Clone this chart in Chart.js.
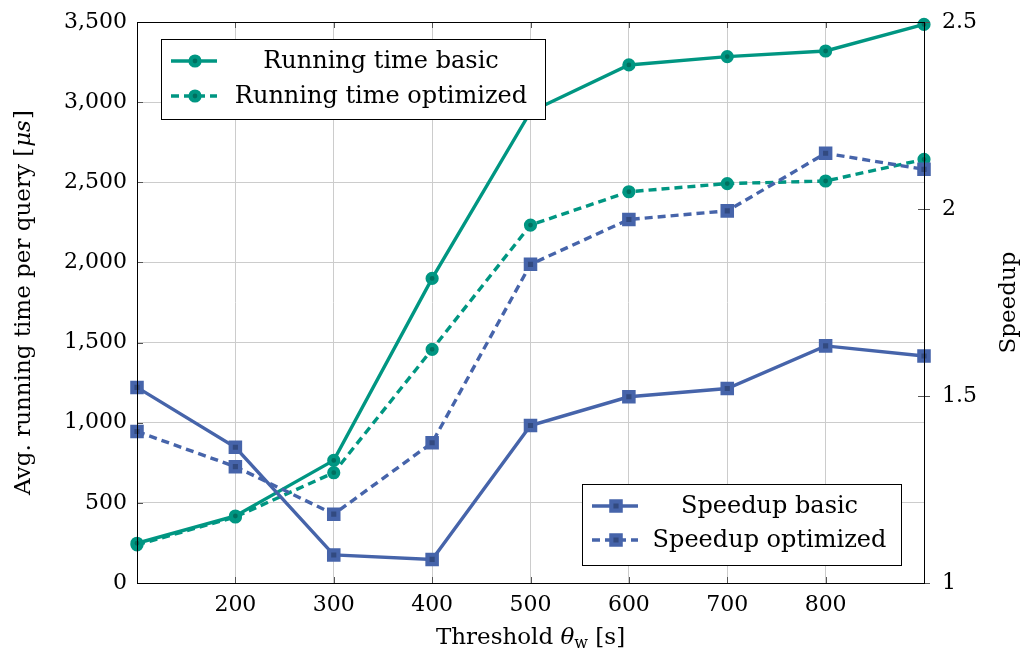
<!DOCTYPE html>
<html>
<head>
<meta charset="utf-8">
<title>Running time and speedup</title>
<script src="https://cdn.jsdelivr.net/npm/chart.js@4.4.1/dist/chart.umd.min.js"></script>
<style>
  html, body { margin: 0; padding: 0; background: #fff; }
  #wrap { width: 1027px; height: 662px; }
</style>
</head>
<body>
<div id="wrap"><canvas id="chart"></canvas></div>
<script>
// threshold theta_w in seconds
const thresholds = [100, 200, 300, 400, 500, 600, 700, 800, 900];

// avg. running time per query in microseconds (left axis)
const timeBasic = [248, 418, 765, 1900, 2940, 3232, 3284, 3319, 3485];
const timeOptimized = [238, 412, 688, 1458, 2233, 2441, 2492, 2508, 2643];

// speedup (right axis)
const speedupBasic = [1.523, 1.363, 1.075, 1.063, 1.421, 1.498, 1.520, 1.634, 1.607];
const speedupOptimized = [1.405, 1.311, 1.184, 1.375, 1.852, 1.972, 1.995, 2.149, 2.106];

const xTicks = [200, 300, 400, 500, 600, 700, 800];
const timeTicks = [0, 500, 1000, 1500, 2000, 2500, 3000, 3500];
const speedupTicks = [1, 1.5, 2, 2.5];

const GREEN = '#009682';
const GREEN_DARK = '#006f5f';
const BLUE = '#4664aa';
const BLUE_DARK = '#324a80';
const DASH = [8, 5];
const FONT = '"DejaVu Serif", "Liberation Serif", serif';

function pts(xs, ys) {
  return xs.map((x, i) => ({ x: x, y: ys[i] }));
}

function series(label, data, axis, color, dark, dashed, shape) {
  const round = shape === 'circle';
  return {
    label: label,
    data: data,
    yAxisID: axis,
    borderColor: color,
    borderWidth: 3.4,
    borderDash: dashed ? DASH : [],
    pointStyle: shape,
    pointRadius: round ? 4.5 : 6.6,
    pointHoverRadius: round ? 4.5 : 6.6,
    pointBorderWidth: 4.2,
    pointBackgroundColor: dark,
    pointBorderColor: color,
    tension: 0,
    fill: false,
    clip: false,
    order: axis === 'yTime' ? 2 : 1
  };
}

function drawMarker(ctx, ds, x, y) {
  ctx.fillStyle = ds.pointBackgroundColor;
  ctx.strokeStyle = ds.pointBorderColor;
  ctx.lineWidth = ds.pointBorderWidth;
  ctx.beginPath();
  if (ds.pointStyle === 'circle') {
    ctx.arc(x, y, ds.pointRadius, 0, Math.PI * 2);
  } else {
    const s = Math.SQRT1_2 * ds.pointRadius;
    ctx.rect(x - s, y - s, 2 * s, 2 * s);
  }
  ctx.fill();
  ctx.stroke();
}

// framed legend box, drawn over the lines
function drawLegend(ctx, box, rows) {
  ctx.save();
  ctx.fillStyle = '#fff';
  ctx.fillRect(box.x, box.y, box.w, box.h);
  ctx.strokeStyle = '#000';
  ctx.lineWidth = 1;
  ctx.strokeRect(box.x + 0.5, box.y + 0.5, box.w, box.h);
  ctx.font = '24px ' + FONT;
  ctx.textBaseline = 'middle';
  rows.forEach(r => {
    const ds = r.ds;
    ctx.strokeStyle = ds.borderColor;
    ctx.lineWidth = ds.borderWidth;
    ctx.setLineDash(ds.borderDash);
    ctx.beginPath();
    ctx.moveTo(box.x + 10, r.y);
    ctx.lineTo(box.x + 56, r.y);
    ctx.stroke();
    ctx.setLineDash([]);
    drawMarker(ctx, ds, box.x + 34, r.y);
    ctx.fillStyle = '#000';
    const left = box.x + 64, right = box.x + box.w - 8;
    const w = ctx.measureText(ds.label).width;
    ctx.textAlign = 'left';
    ctx.fillText(ds.label, Math.max(left, (left + right) / 2 - w / 2), r.y + 1);
  });
  ctx.restore();
}

const decorations = {
  id: 'decorations',
  afterDatasetsDraw(chart) {
    const ctx = chart.ctx;
    const a = chart.chartArea;
    const sx = chart.scales.x, yt = chart.scales.yTime, ys = chart.scales.ySpeed;
    ctx.save();
    // inner tick marks on the frame
    ctx.strokeStyle = '#555';
    ctx.lineWidth = 1;
    ctx.beginPath();
    xTicks.forEach(v => {
      const px = Math.round(sx.getPixelForValue(v)) + 0.5;
      ctx.moveTo(px, a.bottom); ctx.lineTo(px, a.bottom - 6);
      ctx.moveTo(px, a.top); ctx.lineTo(px, a.top + 6);
    });
    timeTicks.forEach(v => {
      const py = Math.round(yt.getPixelForValue(v)) + 0.5;
      ctx.moveTo(a.left, py); ctx.lineTo(a.left + 6, py);
    });
    speedupTicks.forEach(v => {
      const py = Math.round(ys.getPixelForValue(v)) + 0.5;
      ctx.moveTo(a.right - 6, py); ctx.lineTo(a.right + 6, py);
    });
    ctx.stroke();
    // frame
    ctx.strokeStyle = '#000';
    ctx.strokeRect(Math.round(a.left) + 0.5, Math.round(a.top) + 0.5,
      Math.round(a.right - a.left), Math.round(a.bottom - a.top));
    ctx.restore();

    const ds = chart.data.datasets;
    drawLegend(ctx, { x: 161, y: 39, w: 384, h: 80 }, [
      { ds: ds[0], y: 61 }, { ds: ds[1], y: 96 }
    ]);
    drawLegend(ctx, { x: 582, y: 484, w: 319, h: 81 }, [
      { ds: ds[2], y: 506 }, { ds: ds[3], y: 540 }
    ]);

    // axis titles
    ctx.save();
    ctx.fillStyle = '#000';
    ctx.textBaseline = 'middle';
    const mid = (a.top + a.bottom) / 2;

    // left title with italic unit
    ctx.save();
    ctx.translate(24, mid);
    ctx.rotate(-Math.PI / 2);
    const p1 = 'Avg. running time per query [', p2 = 'μs', p3 = ']';
    ctx.font = '23px ' + FONT;
    const w1 = ctx.measureText(p1).width, w3 = ctx.measureText(p3).width;
    ctx.font = 'italic 23px ' + FONT;
    const w2 = ctx.measureText(p2).width;
    const tx = -(w1 + w2 + w3 + 2) / 2;
    ctx.textAlign = 'left';
    ctx.font = '23px ' + FONT;
    ctx.fillText(p1, tx, 0);
    ctx.font = 'italic 23px ' + FONT;
    ctx.fillText(p2, tx + w1 + 1, 0);
    ctx.font = '23px ' + FONT;
    ctx.fillText(p3, tx + w1 + w2 + 2, 0);
    ctx.restore();

    // right title
    ctx.save();
    ctx.translate(1009, mid);
    ctx.rotate(-Math.PI / 2);
    ctx.textAlign = 'center';
    ctx.font = '23px ' + FONT;
    ctx.fillText('Speedup', 0, 0);
    ctx.restore();

    // bottom title: Threshold θ_w [s]
    const q1 = 'Threshold ', q2 = 'θ', q3 = 'w', q4 = ' [s]';
    ctx.font = '23px ' + FONT;
    const v1 = ctx.measureText(q1).width, v4 = ctx.measureText(q4).width;
    ctx.font = 'italic 23px ' + FONT;
    const v2 = ctx.measureText(q2).width;
    ctx.font = '16px ' + FONT;
    const v3 = ctx.measureText(q3).width;
    const cx = (a.left + a.right) / 2;
    const bx = cx - (v1 + v2 + v3 + v4) / 2;
    const by = 638;
    ctx.textAlign = 'left';
    ctx.font = '23px ' + FONT;
    ctx.fillText(q1, bx, by);
    ctx.font = 'italic 23px ' + FONT;
    ctx.fillText(q2, bx + v1, by);
    ctx.font = '16px ' + FONT;
    ctx.fillText(q3, bx + v1 + v2, by + 6);
    ctx.font = '23px ' + FONT;
    ctx.fillText(q4, bx + v1 + v2 + v3, by);
    ctx.restore();
  }
};

// fixed box sizes so the plot area lands at 137..924 x 22..583
function fitY(width) {
  return s => { s.width = width; s.paddingTop = 0; s.paddingBottom = 0; };
}

new Chart(document.getElementById('chart'), {
  type: 'line',
  data: {
    datasets: [
      series('Running time basic', pts(thresholds, timeBasic), 'yTime', GREEN, GREEN_DARK, false, 'circle'),
      series('Running time optimized', pts(thresholds, timeOptimized), 'yTime', GREEN, GREEN_DARK, true, 'circle'),
      series('Speedup basic', pts(thresholds, speedupBasic), 'ySpeed', BLUE, BLUE_DARK, false, 'rect'),
      series('Speedup optimized', pts(thresholds, speedupOptimized), 'ySpeed', BLUE, BLUE_DARK, true, 'rect')
    ]
  },
  options: {
    responsive: true,
    maintainAspectRatio: false,
    animation: false,
    events: [],
    layout: { padding: { top: 22, left: 0, right: 0, bottom: 0 } },
    plugins: {
      legend: { display: false },
      tooltip: { enabled: false }
    },
    scales: {
      x: {
        type: 'linear',
        min: 100,
        max: 900,
        afterBuildTicks: s => { s.ticks = [100].concat(xTicks, [900]).map(v => ({ value: v })); },
        afterFit: s => { s.height = 79; s.paddingLeft = 0; s.paddingRight = 0; },
        border: { display: false },
        grid: { color: '#cccccc', lineWidth: 1, tickLength: 0 },
        ticks: {
          padding: 9,
          color: '#000',
          font: { family: FONT, size: 22 },
          callback: v => (v === 100 || v === 900) ? '' : String(v)
        }
      },
      yTime: {
        type: 'linear',
        position: 'left',
        min: 0,
        max: 3500,
        afterBuildTicks: s => { s.ticks = timeTicks.map(v => ({ value: v })); },
        afterFit: fitY(137),
        border: { display: false },
        grid: { color: '#cccccc', lineWidth: 1, tickLength: 0 },
        ticks: {
          padding: 10,
          color: '#000',
          font: { family: FONT, size: 22 },
          callback: v => v.toLocaleString('en-US')
        }
      },
      ySpeed: {
        type: 'linear',
        position: 'right',
        min: 1,
        max: 2.5,
        afterBuildTicks: s => { s.ticks = speedupTicks.map(v => ({ value: v })); },
        afterFit: fitY(103),
        border: { display: false },
        grid: { drawOnChartArea: false, drawTicks: false },
        ticks: {
          padding: 18,
          color: '#000',
          font: { family: FONT, size: 22 },
          callback: v => String(v)
        }
      }
    }
  },
  plugins: [decorations]
});
</script>
</body>
</html>
